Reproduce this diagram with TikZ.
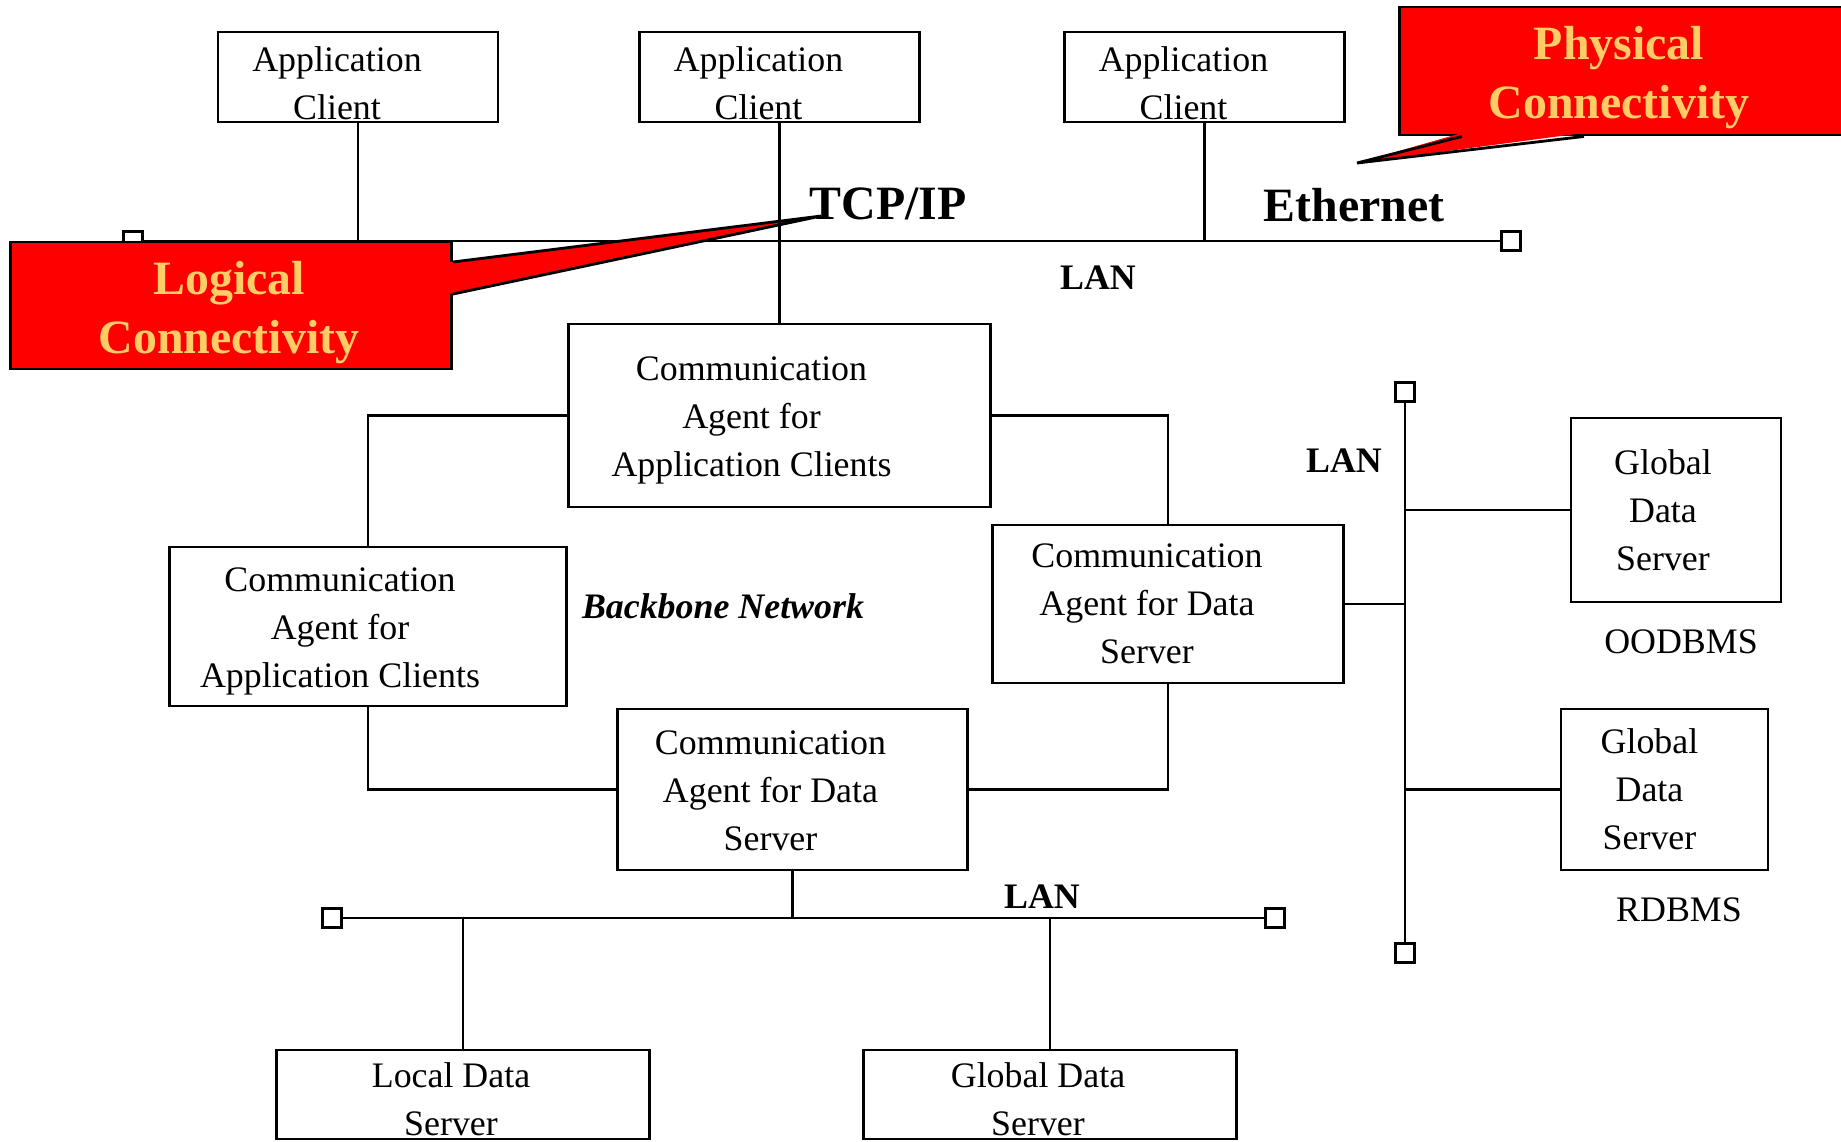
\documentclass[tikz,border=0pt]{standalone}
\usepackage{fontspec}
\setmainfont{Liberation Serif}
\usetikzlibrary{positioning, calc}
\definecolor{callred}{RGB}{255,0,0}
\definecolor{callgold}{RGB}{255,204,102}

\begin{document}
\begin{tikzpicture}[
  x=0.01cm, y=-0.01cm,
  every node/.style={font=\fontsize{10.2}{13.6}\selectfont},
  netbox/.style={draw,fill=white,line width=0.8pt,inner sep=0pt},
  boxtxt/.style={align=center,inner sep=0pt},
  term/.style={draw,fill=white,line width=0.8pt,minimum size=0.19cm,inner sep=0pt},
  wire/.style={line width=0.7pt},
  callbox/.style={draw,fill=callred,line width=0.8pt,inner sep=0pt},
  calltxt/.style={align=center,inner sep=0pt,text=callgold,
    font=\fontsize{13.6}{16.8}\selectfont\bfseries},
  lanlbl/.style={font=\fontsize{10.2}{12}\selectfont\bfseries},
  protolbl/.style={font=\fontsize{13.6}{16}\selectfont\bfseries}
]
\useasboundingbox (0,0) rectangle (1841,1141);

% Application clients
\node[netbox, minimum width=2.8cm, minimum height=0.9cm] (ac1) at (358,77)    {};
\node[netbox, minimum width=2.8cm, minimum height=0.9cm] (ac2) at (779.5,77)  {};
\node[netbox, minimum width=2.8cm, minimum height=0.9cm] (ac3) at (1204.5,77) {};
\node[boxtxt] (ac1txt) at ([shift={(-21,6)}]ac1.center) {Application\\Client};
\node[boxtxt] (ac2txt) at ([shift={(-21,6)}]ac2.center) {Application\\Client};
\node[boxtxt] (ac3txt) at ([shift={(-21,6)}]ac3.center) {Application\\Client};

% Communication agents
\node[netbox, minimum width=4.21cm, minimum height=1.83cm] (caac1) at (779.5,415.5) {};
\node[netbox, minimum width=3.96cm, minimum height=1.59cm] (caac2) at (368,626.5)   {};
\node[netbox, minimum width=3.5cm,  minimum height=1.58cm] (cads1) at (1168,604)    {};
\node[netbox, minimum width=3.49cm, minimum height=1.61cm] (cads2) at (792.5,789.5) {};
\node[boxtxt] (caac1txt) at ([shift={(-28,5)}]caac1.center)
  {Communication\\Agent for\\Application Clients};
\node[boxtxt] (caac2txt) at ([shift={(-28,5)}]caac2.center)
  {Communication\\Agent for\\Application Clients};
\node[boxtxt] (cads1txt) at ([shift={(-21,0)}]cads1.center)
  {Communication\\Agent for Data\\Server};
\node[boxtxt] (cads2txt) at ([shift={(-22,1)}]cads2.center)
  {Communication\\Agent for Data\\Server};

% Data servers
\node[netbox, minimum width=3.72cm, minimum height=0.89cm] (lds)  at (463,1094.5)  {};
\node[netbox, minimum width=3.72cm, minimum height=0.89cm] (gds)  at (1050,1094.5) {};
\node[netbox, minimum width=2.1cm,  minimum height=1.84cm] (gds1) at (1676,510)    {};
\node[netbox, minimum width=2.07cm, minimum height=1.61cm] (gds2) at (1664.5,789.5) {};
\node[boxtxt] (ldstxt)  at ([shift={(-12,5)}]lds.center)  {Local Data\\Server};
\node[boxtxt] (gdstxt)  at ([shift={(-12,5)}]gds.center)  {Global Data\\Server};
\node[boxtxt] (gds1txt) at ([shift={(-13,0)}]gds1.center) {Global\\Data\\Server};
\node[boxtxt] (gds2txt) at ([shift={(-15,0)}]gds2.center) {Global\\Data\\Server};

% LAN terminators
\node[term] (lan1w) at (133,241)  {};
\node[term] (lan1e) at (1511,241) {};
\node[term] (lan2w) at (332,918)  {};
\node[term] (lan2e) at (1275,918) {};
\node[term] (lan3n) at (1405,392) {};
\node[term] (lan3s) at (1405,953) {};

% Top LAN and its clients
\draw[wire] (lan1w.east) -- (lan1e.west);
\draw[wire] (ac1.south) -- (ac1.south |- lan1w);
\draw[wire] (ac3.south) -- (ac3.south |- lan1w);

% Bottom LAN
\draw[wire] (lan2w.east) -- (lan2e.west);
\draw[wire] (cads2.south) -- (cads2.south |- lan2w);
\draw[wire] (lds.north) -- (lds.north |- lan2w);
\draw[wire] (gds.north) -- (gds.north |- lan2w);

% Vertical LAN
\draw[wire] (lan3n.south) -- (lan3s.north);
\draw[wire] (cads1.east) -- (cads1.east -| lan3n);
\draw[wire] (gds1.west) -- (gds1.west -| lan3n);
\draw[wire] (gds2.west) -- (gds2.west -| lan3n);

% Backbone ring
\draw[wire] (caac1.west) -| (caac2.north);
\draw[wire] (caac1.east) -| (cads1.north);
\draw[wire] (caac2.south) |- (cads2.west);
\draw[wire] (cads1.south) |- (cads2.east);

% Callout: logical
\node[callbox, minimum width=4.41cm, minimum height=1.27cm] (logic) at (231,305.5) {};
\node[calltxt] (logictxt) at ([shift={(-2,7)}]logic.center) {Logical\\Connectivity};
\coordinate (tcptip) at (821,216);
\fill[callred] ([xshift=-1pt,yshift=0.435cm]logic.east) -- (tcptip)
  -- ([xshift=-1pt,yshift=0.115cm]logic.east) -- cycle;
\draw[line width=0.8pt] ([yshift=0.435cm]logic.east) -- (tcptip)
  -- ([yshift=0.115cm]logic.east);

% Callout: physical
\node[callbox, minimum width=4.46cm, minimum height=1.28cm] (physical) at (1623,71) {};
\node[calltxt] (physicaltxt) at ([shift={(-4,7)}]physical.center) {Physical\\Connectivity};
\coordinate (ethtip) at (1357,163);
\fill[callred] ([xshift=-1.61cm,yshift=1pt]physical.south) -- (ethtip)
  -- ([xshift=-0.39cm,yshift=1pt]physical.south) -- cycle;
\draw[line width=0.8pt] ([xshift=-1.61cm]physical.south) -- (ethtip)
  -- ([xshift=-0.39cm]physical.south);

% Client 2 down to its agent (over the callout)
\draw[wire] (ac2.south) -- (caac1.north);

% Labels
\node[protolbl] (tcpip) at (888,204)  {TCP/IP};
\node[protolbl] (ether) at (1354,205) {Ethernet};
\node[lanlbl] (lan1lbl) at (1098,278) {LAN};
\node[lanlbl] (lan2lbl) at (1042,897) {LAN};
\node[lanlbl] (lan3lbl) at (1344,461) {LAN};
\node[font=\fontsize{10.2}{12}\selectfont\bfseries\itshape] (backbone) at (723,606)
  {Backbone Network};
\node (oodbms) at (1681,642) {OODBMS};
\node (rdbms)  at (1679,910) {RDBMS};

\end{tikzpicture}
\end{document}
